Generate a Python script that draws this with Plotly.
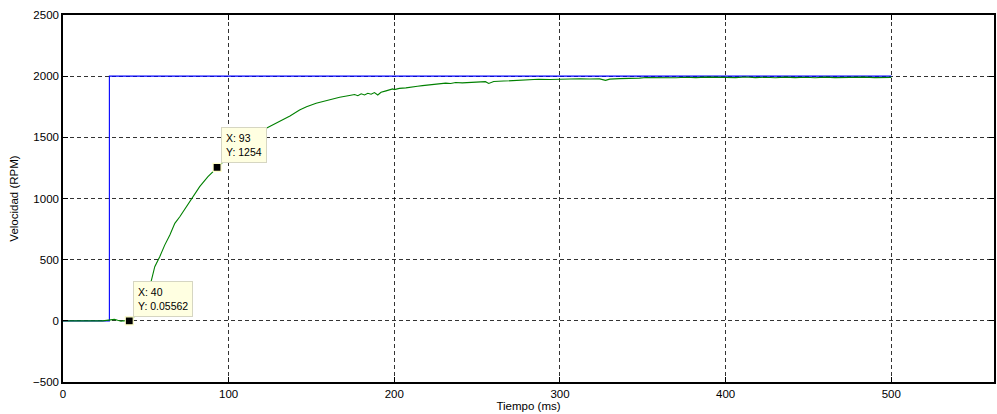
import plotly.graph_objects as go

# Reference (setpoint) step: time in ms, speed in RPM
ref_t = [0, 28, 28, 500]
ref_v = [0, 0, 2000, 2000]

# Measured motor speed
vel_t = [0, 3, 6, 9, 12, 15, 18, 21, 24, 27, 29, 31, 33, 35, 37, 40, 42, 44, 46, 48,
         50, 52, 53.4, 55.4, 58.4, 61.4, 64.5, 67.5, 70.5, 74.5, 77.5, 82.5, 87.5, 91.6,
         93, 97, 100, 104, 108, 112, 116, 119, 122.7, 127, 132.7, 137, 142.8, 147,
         152.8, 157, 162.8, 167, 172.9, 176, 178, 180, 182, 184, 186, 188, 190, 192,
         195, 199, 200, 203, 207, 210, 214, 217, 222, 226, 231, 234, 237, 241, 246,
         252, 255, 257, 260, 266, 271, 276, 281, 287, 294, 300, 306, 312, 318, 324,
         327.5, 330, 336, 342, 348, 352, 358, 364, 370, 376, 382, 388, 394, 400, 406,
         412, 418, 424, 430, 436, 442, 448, 454, 460, 466, 472, 478, 484, 490, 496, 500]
vel_v = [0, 2, -1, 1, 0, 2, -2, 1, 0, 3, 8, 12, 4, -3, 2, 0.05562, 15, 60, 110, 165,
         220, 280, 333, 443, 524, 619, 701, 797, 851, 933, 1002, 1097, 1178, 1233,
         1254, 1305, 1346, 1395, 1438, 1478, 1515, 1545, 1574, 1605, 1642, 1675, 1724, 1750,
         1779, 1795, 1812, 1828, 1842, 1850, 1840, 1856, 1846, 1860, 1852, 1866, 1846, 1868,
         1880, 1896, 1890, 1900, 1904, 1912, 1918, 1923, 1930, 1936, 1943, 1940, 1948, 1945, 1950,
         1953, 1955, 1940, 1956, 1960, 1964, 1966, 1968, 1975, 1973, 1976, 1975, 1979, 1977, 1978,
         1966, 1976, 1980, 1979, 1984, 1989, 1987, 1990, 1987, 1991, 1988, 1992, 1988, 1990, 1988,
         1993, 1988, 1991, 1987, 1992, 1988, 1991, 1987, 1992, 1988, 1991, 1988, 1992, 1988, 1991, 1990]

# Data cursors
tip_x = [40, 93]
tip_y = [0.05562, 1254]

x_ticks = [0, 100, 200, 300, 400, 500]
y_ticks = [-500, 0, 500, 1000, 1500, 2000, 2500]

FONT = "Liberation Sans, Arial, sans-serif"

fig = go.Figure()
fig.add_trace(go.Scatter(x=ref_t, y=ref_v, mode="lines",
                         line=dict(color="#0000ff", width=1.1), hoverinfo="skip"))
fig.add_trace(go.Scatter(x=vel_t, y=vel_v, mode="lines",
                         line=dict(color="#008000", width=1.1), hoverinfo="skip"))
fig.add_trace(go.Scatter(x=tip_x, y=tip_y, mode="markers",
                         marker=dict(symbol="square", size=8, color="black",
                                     line=dict(color="#ffffc8", width=1.2)),
                         hoverinfo="skip"))

for tx, ty in zip(tip_x, tip_y):
    fig.add_annotation(x=tx, y=ty, xref="x", yref="y",
                       text=f"X: {tx:g}<br>Y: {ty:.4g}",
                       showarrow=False, xanchor="left", yanchor="bottom",
                       xshift=4, yshift=4, align="left",
                       font=dict(family=FONT, size=10.5, color="black"),
                       bgcolor="#ffffe1", bordercolor="#d6d6c2",
                       borderwidth=1, borderpad=4)

axis_common = dict(
    showline=True, linecolor="black", linewidth=1.5, mirror="allticks",
    ticks="inside", ticklen=5, tickcolor="black", tickwidth=1,
    showgrid=True, gridcolor="rgba(0,0,0,0.8)", gridwidth=1, griddash="4px,3px",
    zeroline=False,
    tickfont=dict(family=FONT, size=11.5, color="black"),
)

fig.update_xaxes(range=[0, 562], tickvals=x_ticks,
                 title=dict(text="Tiempo (ms)", standoff=2,
                            font=dict(family=FONT, size=11.5, color="black")),
                 **axis_common)
fig.update_yaxes(range=[-500, 2500], tickvals=y_ticks,
                 title=dict(text="Velocidad (RPM)", standoff=12,
                            font=dict(family=FONT, size=11.5, color="black")),
                 **axis_common)

fig.update_layout(
    width=997, height=414,
    margin=dict(l=63, r=1, t=15, b=32),
    paper_bgcolor="white", plot_bgcolor="white",
    showlegend=False,
)

fig.write_html("out.html")
